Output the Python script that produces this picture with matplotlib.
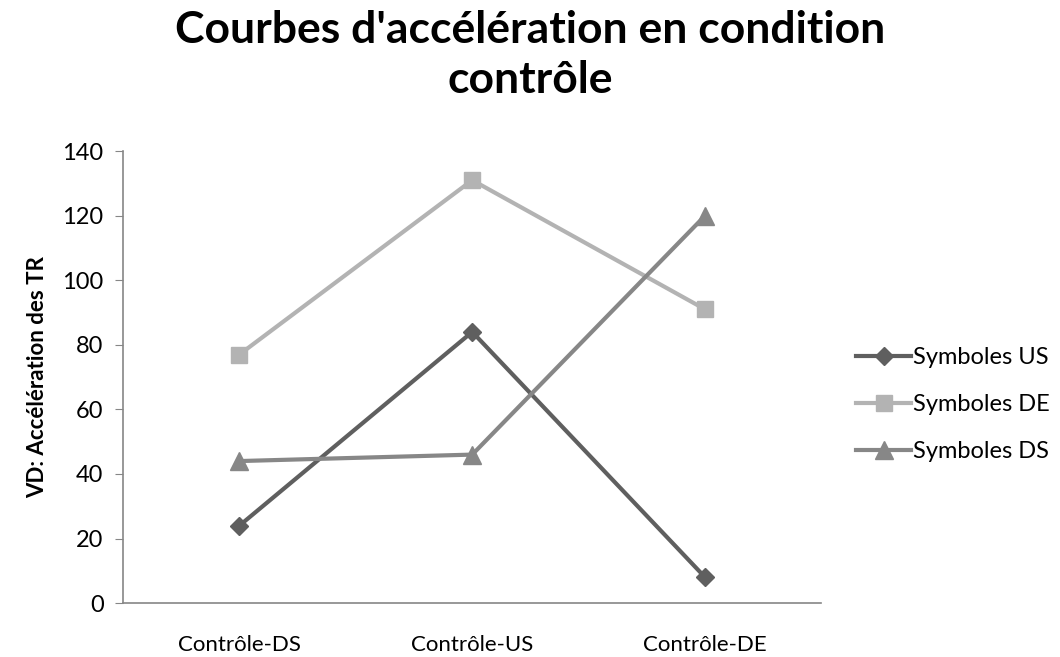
import matplotlib
matplotlib.use("Agg")
import matplotlib.pyplot as plt

# Data
categories = ["Contrôle-DS", "Contrôle-US", "Contrôle-DE"]
symboles_us = [24, 84, 8]
symboles_de = [77, 131, 91]
symboles_ds = [44, 46, 120]
y_ticks = [0, 20, 40, 60, 80, 100, 120, 140]

plt.rcParams['font.family'] = ['Lato', 'DejaVu Sans']

fig = plt.figure(figsize=(10.6, 6.57), dpi=100)
ax = fig.add_axes([0.116, 0.082, 0.659, 0.688])

x = range(len(categories))
ax.plot(x, symboles_us, color='#5f5f5f', linewidth=3, marker='D', markersize=9, label='Symboles US')
ax.plot(x, symboles_de, color='#b3b3b3', linewidth=3, marker='s', markersize=12, label='Symboles DE')
ax.plot(x, symboles_ds, color='#878787', linewidth=3, marker='^', markersize=13, label='Symboles DS')

ax.set_xlim(-0.5, 2.5)
ax.set_ylim(0, 140)
ax.set_yticks(y_ticks)
ax.set_xticks(list(x))
ax.set_xticklabels(categories, fontsize=16)
ax.tick_params(axis='y', labelsize=17, length=6, color='#868686', pad=8)
ax.tick_params(axis='x', length=0, pad=23)

for side in ['top', 'right']:
    ax.spines[side].set_visible(False)
for side in ['left', 'bottom']:
    ax.spines[side].set_color('#868686')
    ax.spines[side].set_linewidth(1.2)

ax.set_ylabel("VD: Accélération des TR", fontsize=16, fontweight='bold', labelpad=10)

fig.suptitle("Courbes d'accélération en condition\ncontrôle", fontsize=32, fontweight='bold',
             y=0.985, linespacing=1.3)

# legend placed in figure coordinates, right of the plot
ax.legend(loc='center left', bbox_to_anchor=(0.808, 0.384), bbox_transform=fig.transFigure,
          borderaxespad=0, borderpad=0, frameon=False, fontsize=17,
          handlelength=2.3, handletextpad=0.1, labelspacing=1.1)

fig.savefig("out.png", dpi=100)
